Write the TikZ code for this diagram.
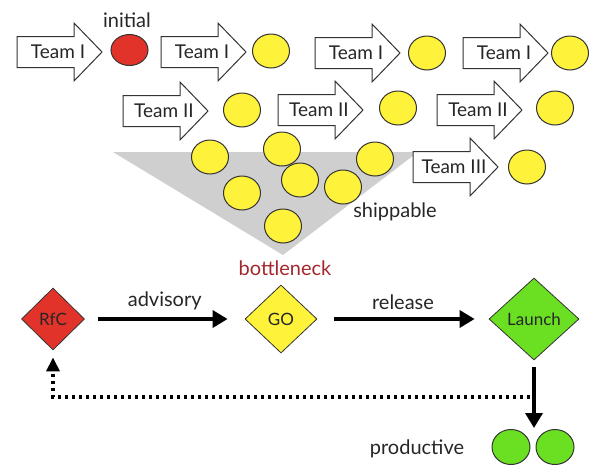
\documentclass[tikz,border=0pt]{standalone}
\usepackage{fontspec}
\setmainfont{Lato}
\usetikzlibrary{shapes.geometric,arrows.meta}
\definecolor{cred}{HTML}{E2332A}
\definecolor{cyel}{HTML}{FFF23A}
\definecolor{cgrn}{HTML}{6BE022}
\definecolor{cgray}{HTML}{CFCFCF}
\definecolor{cbottle}{HTML}{A3282E}
\definecolor{cline}{HTML}{333333}
\tikzset{
  arrowbody/.style={draw=cline, fill=white, line width=1pt, line join=miter},
  teamlbl/.style={font=\fontsize{19}{19}\selectfont, text=black!85, inner sep=0pt},
  ball/.style={ellipse, draw=cline, line width=1pt, fill=cyel, minimum width=37pt, minimum height=34pt, inner sep=0pt},
  redball/.style={ball, fill=cred, minimum width=37pt, minimum height=31pt},
  greenball/.style={ball, fill=cgrn, minimum width=38pt, minimum height=35pt},
  gate/.style={diamond, draw=cline, line width=0.8pt, inner sep=0pt, font=\fontsize{17}{17}\selectfont, text=black!85},
  lbl/.style={font=\fontsize{20}{20}\selectfont, text=black!85},
  flow/.style={line width=3.5pt, -{Triangle[length=15pt,width=17pt]}},
  back/.style={line width=3.5pt, dash pattern=on 3.5pt off 3.5pt, -{Triangle[length=14pt,width=13pt]}}
}
% block arrow with label: name, tail x, centre y, text
\newcommand{\teamarrow}[4]{%
  \draw[arrowbody] ({#2},{#3-15.5}) -- ({#2+57},{#3-15.5}) -- ({#2+57},{#3-29})
    -- ({#2+85},{#3}) -- ({#2+57},{#3+29}) -- ({#2+57},{#3+15.5}) -- ({#2},{#3+15.5}) -- cycle;
  \node[teamlbl] (#1) at ({#2+41},{#3}) {#4};}
\begin{document}
\begin{tikzpicture}[x=1pt,y=-1pt]
\useasboundingbox (0,0) rectangle (597,472);
% triangle of shippable increments
\fill[cgray] (113,152) -- (418,152) -- (283,255) -- cycle;
% row 1
\teamarrow{a1}{17}{52}{Team I}
\node[redball] (r1) at (129.5,50) {};
\node[lbl] (init) at (127,20) {initial};
\teamarrow{a2}{161}{52}{Team I}
\node[ball] (y1) at (271,51) {};
\teamarrow{a3}{315}{53}{Team I}
\node[ball] (y2) at (427,53) {};
\teamarrow{a4}{463}{53}{Team I}
\node[ball] (y3) at (570,53) {};
% row 2
\teamarrow{b1}{123}{111}{Team II}
\node[ball] (y4) at (242,110) {};
\teamarrow{b2}{278}{110}{Team II}
\node[ball] (y5) at (398,108) {};
\teamarrow{b3}{437}{110}{Team II}
\node[ball] (y6) at (555,108) {};
% row 3
\teamarrow{c1}{413}{167}{Team III}
\node[ball] (y7) at (527,167) {};
% shippable pool
\node[ball] (s1) at (210,157) {};
\node[ball] (s2) at (282,149) {};
\node[ball] (s3) at (375,159) {};
\node[ball] (s4) at (242,193) {};
\node[ball] (s5) at (300,180) {};
\node[ball] (s6) at (343,187) {};
\node[ball] (s7) at (283,226) {};
\node[lbl] (ship) at (395,212) {shippable};
% bottom flow
\node[gate, fill=cred, minimum width=63pt, minimum height=62pt] (rfc) at (53,319) {RfC};
\node[gate, fill=cyel, minimum width=72pt, minimum height=68pt] (go) at (281,319) {GO};
\node[gate, fill=cgrn, minimum width=90pt, minimum height=82pt] (launch) at (534,319) {Launch};
\node[lbl, text=cbottle] (bn) at (285,268) {bottleneck};
\draw[flow, shorten <=13pt, shorten >=17pt] (rfc) -- node[lbl, above=4pt] (adv) {advisory} (go);
\draw[flow, shorten <=17pt, shorten >=14pt] (go) -- node[lbl, above=4pt] (rel) {release} (launch);
\node[greenball] (g1) at (511,447) {};
\node[greenball] (g2) at (555,447) {};
\node[lbl] (prod) at (417,449) {productive};
\coordinate (dn) at (534,428);
\draw[flow, shorten <=7pt] (launch.south) -- (dn);
\coordinate (bk) at (530,397);
\draw[back, shorten >=7pt] (bk) -- (bk -| rfc.south) -- (rfc.south);
\end{tikzpicture}
\end{document}
